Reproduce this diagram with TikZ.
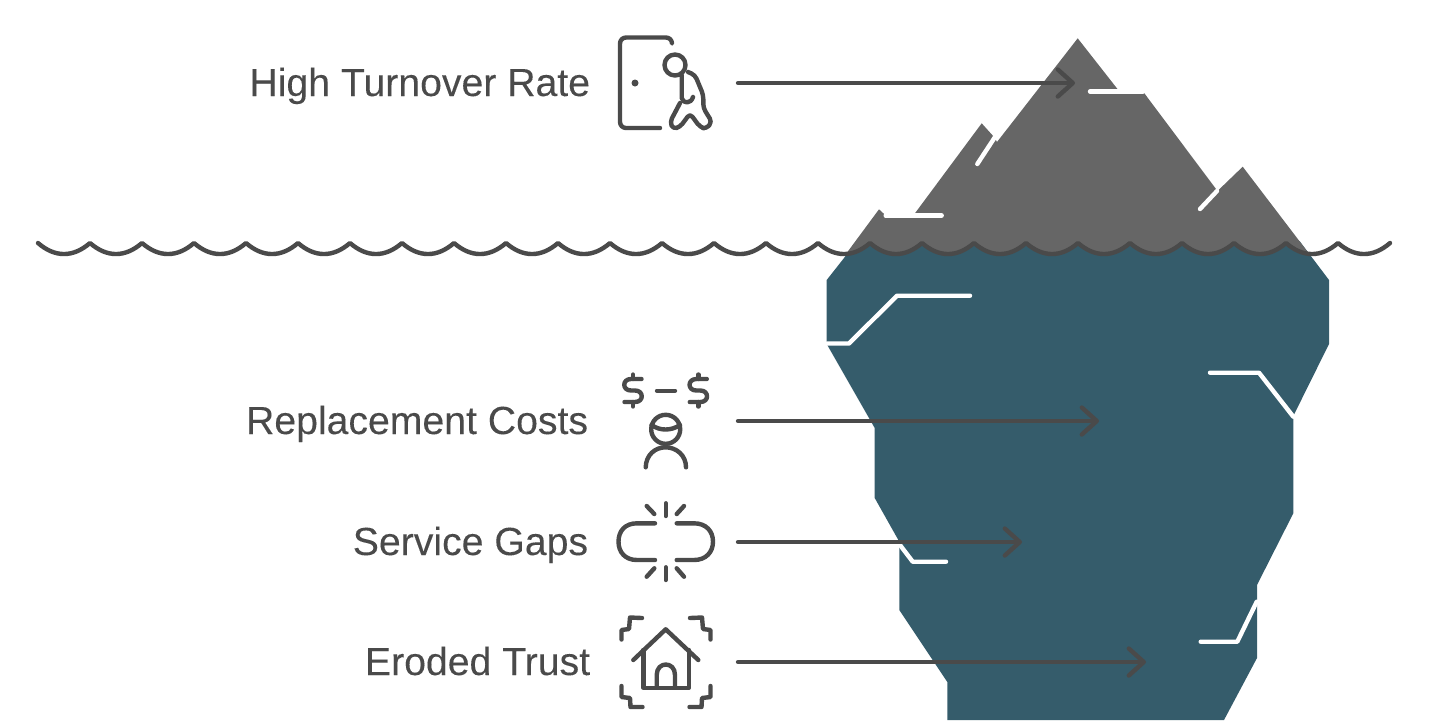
\documentclass[tikz,border=0pt]{standalone}
\usepackage{fontspec}
\setmainfont[FakeBold=0.12]{Liberation Sans}
\usetikzlibrary{arrows.meta}
\definecolor{inkgray}{HTML}{4A4A4A}
\definecolor{rockgray}{HTML}{666666}
\definecolor{deepteal}{HTML}{355C6B}
\tikzset{
    label/.style={text=inkgray, font=\fontsize{19.6pt}{24pt}\selectfont, anchor=base east, inner sep=0pt},
    iconline/.style={draw=inkgray, line width=2.2pt, line cap=round, line join=round},
    crack/.style={draw=white, line width=2.2pt, line cap=round, line join=round},
    pointer/.style={draw=inkgray, line width=2.2pt, line cap=round, line join=round, -{Straight Barb[length=7.5pt,width=13.5pt,round]}},
}
\begin{document}
\begin{tikzpicture}[x=0.5pt,y=-0.5pt]
    \useasboundingbox (0,0) rectangle (1440,720);

    % underwater part
    \fill[deepteal] (857.4,241) -- (826.7,280) -- (826.7,344) -- (874.7,428) -- (874.7,498)
        -- (899.3,541.7) -- (899.3,610) -- (947.3,682) -- (947.3,720) -- (1224,720)
        -- (1257,658) -- (1257,585) -- (1293.3,513.3) -- (1293.3,416) -- (1329,344)
        -- (1329,280) -- (1299.5,241) -- cycle;

    % part above the water, cut along the waves
    \begin{scope}
        \clip (38,0) -- (38,243) foreach \x in {38,90,...,1338} {
            .. controls (\x+17,257.7) and (\x+35,257.7) .. (\x+52,243)
        } -- (1390,0) -- cycle;
        \fill[rockgray] (1077.7,38.3) -- (1117.7,89.3) -- (1143,91.5) -- (1217.5,191)
            -- (1242.7,166.7) -- (1313.8,260) -- (841.5,260) -- (879,209.3) -- (885.7,215.5)
            -- (913.3,215.5) -- (981.7,123.3) -- (994.3,137.3) -- (997,142) -- cycle;
    \end{scope}

    % cracks
    \draw[crack] (1090,91.5) -- (1143,91.5);
    \draw[crack] (995,137) -- (977.3,164);
    \draw[crack] (885.7,215.5) -- (941.7,215.5);
    \draw[crack] (1217,191) -- (1200,209);
    \draw[crack] (827,343.5) -- (849,343.5) -- (897,295.7) -- (970,295.7);
    \draw[crack] (1210,372.7) -- (1259,372.7) -- (1293.3,416.7);
    \draw[crack] (900,545) -- (912.7,561.7) -- (946,561.7);
    \draw[crack] (1256.7,601.7) -- (1237.3,641.7) -- (1200.7,641.7);

    % waves
    \draw[iconline] (38,243) foreach \x in {38,90,...,1338} {
        .. controls (\x+17,257.7) and (\x+35,257.7) .. (\x+52,243)
    };

    % labels
    \node[label] (turnover) at (590.5,96) {High Turnover Rate};
    \node[label] (costs) at (588.5,434) {Replacement Costs};
    \node[label] (gaps) at (588.5,555) {Service Gaps};
    \node[label] (trust) at (590.5,675) {Eroded Trust};

    % pointers
    \coordinate (turnoverstart) at (738,83);
    \coordinate (turnovertip) at (1075,83);
    \coordinate (costsstart) at (738,421);
    \coordinate (coststip) at (1099,421);
    \coordinate (gapsstart) at (738,542);
    \coordinate (gapstip) at (1022,542);
    \coordinate (truststart) at (738,662);
    \coordinate (trusttip) at (1146,662);
    \draw[pointer] (turnoverstart) -- (turnovertip);
    \draw[pointer] (costsstart) -- (coststip);
    \draw[pointer] (gapsstart) -- (gapstip);
    \draw[pointer] (truststart) -- (trusttip);

    % door and person
    \draw[iconline, rounded corners=3pt] (672,43) -- (672,37.5) -- (620,37.5) -- (620,128) -- (660,128);
    \fill[inkgray] (635,83) circle (3.5);
    \draw[iconline] (675,65) circle (10.5);
    \draw[iconline, rounded corners=2pt] (688,72) -- (695,75) -- (703.3,95) -- (703.3,108) -- (712,122)
        -- (706,129) -- (700,127) -- (690,113.5) -- (680,127) -- (673,129) -- (670,122) -- (680,103);
    \draw[iconline] (681.7,75) -- (681.7,98) .. controls (683,104) and (691,104) .. (693,97);

    % dollars and person
    \foreach \dx in {633,698.3} {
        \draw[iconline] (\dx+8.5,379) -- (\dx-2,379) .. controls (\dx-11,379) and (\dx-11,390.5) .. (\dx-2,390.5)
            -- (\dx+2,390.5) .. controls (\dx+11,390.5) and (\dx+11,402) .. (\dx+2,402) -- (\dx-8.5,402);
        \draw[iconline] (\dx,374.5) -- (\dx,379);
        \draw[iconline] (\dx,402) -- (\dx,406.5);
    }
    \draw[iconline] (657,390.7) -- (675,390.7);
    \draw[iconline] (665.7,429.3) circle (14.5);
    \draw[iconline] (651.5,425) .. controls (660,431) and (671,431) .. (680,425);
    \draw[iconline] (645.7,467.3) .. controls (646,455) and (655,447.3) .. (665.7,447.3)
        .. controls (676,447.3) and (686,455) .. (686,467.3);

    % broken link
    \draw[iconline] (655,523.3) -- (637,523.3) .. controls (625,523.3) and (618.5,531) .. (618.5,541.7)
        .. controls (618.5,552) and (625,560) .. (637,560) -- (655,560);
    \draw[iconline] (676.7,523.3) -- (694,523.3) .. controls (706,523.3) and (713,531) .. (713,541.7)
        .. controls (713,552) and (706,560) .. (694,560) -- (676.7,560);
    \draw[iconline] (665.7,503.3) -- (665.7,516);
    \draw[iconline] (646.7,506) -- (654.3,514);
    \draw[iconline] (684,506) -- (676.7,514);
    \draw[iconline] (665.7,567.3) -- (665.7,580);
    \draw[iconline] (654.3,568.3) -- (646.7,576.7);
    \draw[iconline] (676.7,568.3) -- (684,576.7);

    % house and corners
    \draw[iconline] (633.3,660) -- (665.7,629.3) -- (698.3,660);
    \draw[iconline] (643.3,650) -- (643.3,687.7) -- (689,687.7) -- (689,650);
    \draw[iconline] (656.7,687.7) -- (656.7,675) .. controls (656.7,661) and (675,661) .. (675,675) -- (675,687.7);
    \draw[iconline] (642,618) -- (630,617.5) -- (629,629) -- (621.5,630) -- (621.5,639.5);
    \draw[iconline] (690,618) -- (702,617.5) -- (703,629) -- (710.5,630) -- (710.5,639.5);
    \draw[iconline] (621.5,686) -- (621.5,697) -- (630,698) -- (630.5,707) -- (642.5,707);
    \draw[iconline] (710.5,686) -- (710.5,697) -- (702,698) -- (701.5,707) -- (689.5,707);
\end{tikzpicture}
\end{document}
